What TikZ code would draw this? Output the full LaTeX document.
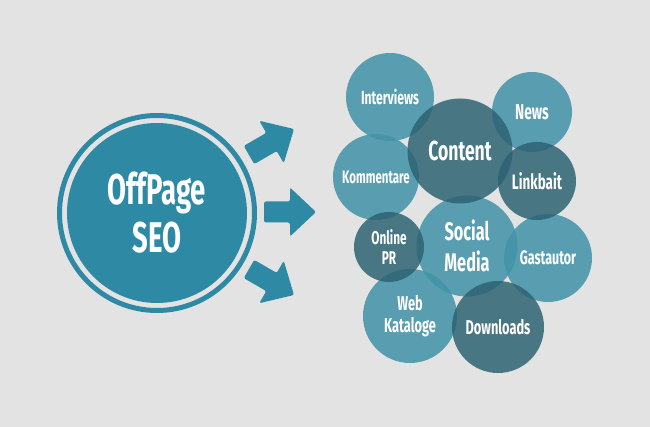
\documentclass[tikz,border=0pt]{standalone}
\usepackage{fontspec}
\setmainfont{Fira Sans}[FakeStretch=0.64]
\definecolor{bg}{HTML}{E3E3E3}
\definecolor{tealc}{HTML}{2E8AA4}
\definecolor{lightc}{RGB}{66,147,168}
\definecolor{darkc}{RGB}{45,99,115}
\begin{document}
\begin{tikzpicture}[x=1pt,y=-1pt,
  bub/.style={circle, inner sep=0pt, text=white, fill opacity=0.85, text opacity=1, align=center},
  lightb/.style={bub, fill=lightc},
  darkb/.style={bub, fill=darkc},
  fs/.style={font=\fontsize{#1}{#1}\selectfont\bfseries},
  arrowshape/.style={fill=tealc, rounded corners=2pt}]
\fill[bg] (0,0) rectangle (650,427);
\useasboundingbox (0,0) rectangle (650,427);
% main circle
\draw[tealc, line width=5pt] (157,213) circle[radius=97.5pt];
\node[circle, fill=tealc, minimum size=180pt, inner sep=0pt, text=white, align=center,
  font=\fontsize{43}{48}\selectfont\bfseries] (seo) at (157,213) {OffPage\\SEO};
% arrows
\foreach \cx/\cy/\ang in {271.5/142/30, 290/212/0, 271.5/282/-30}{
  \begin{scope}[shift={(\cx,\cy)}, rotate=\ang]
    \fill[arrowshape] (-26,-10.5) -- (0,-10.5) -- (0,-24.5) -- (26,0) -- (0,24.5) -- (0,10.5) -- (-26,10.5) -- cycle;
  \end{scope}
}
% light bubbles
\node[lightb, minimum size=88pt, fs=19] (interviews) at (390,97) {Interviews};
\node[lightb, minimum size=80pt, fs=21.5] (news) at (532,112) {News};
\node[lightb, minimum size=86pt, fs=18] (komm) at (376,177) {Kommentare};
\node[lightb, minimum size=88pt, fs=19.5] (gast) at (548,258) {Gastautor};
\node[lightb, minimum size=101pt, font=\fontsize{25.5}{31}\selectfont\bfseries] (social) at (467,246) {Social\\Media};
\node[lightb, minimum size=94pt, font=\fontsize{20}{22}\selectfont\bfseries] (web) at (410,316) {Web\\Kataloge};
% dark bubbles
\node[darkb, minimum size=105pt, fs=27.5] (content) at (460,151) {Content};
\node[darkb, minimum size=78pt, fs=21] (linkbait) at (537,181) {Linkbait};
\node[darkb, minimum size=70pt, font=\fontsize{18.5}{20}\selectfont\bfseries] (online) at (389,247) {Online\\PR};
\node[darkb, minimum size=92pt, fs=20] (down) at (498,327) {Downloads};
\end{tikzpicture}
\end{document}
